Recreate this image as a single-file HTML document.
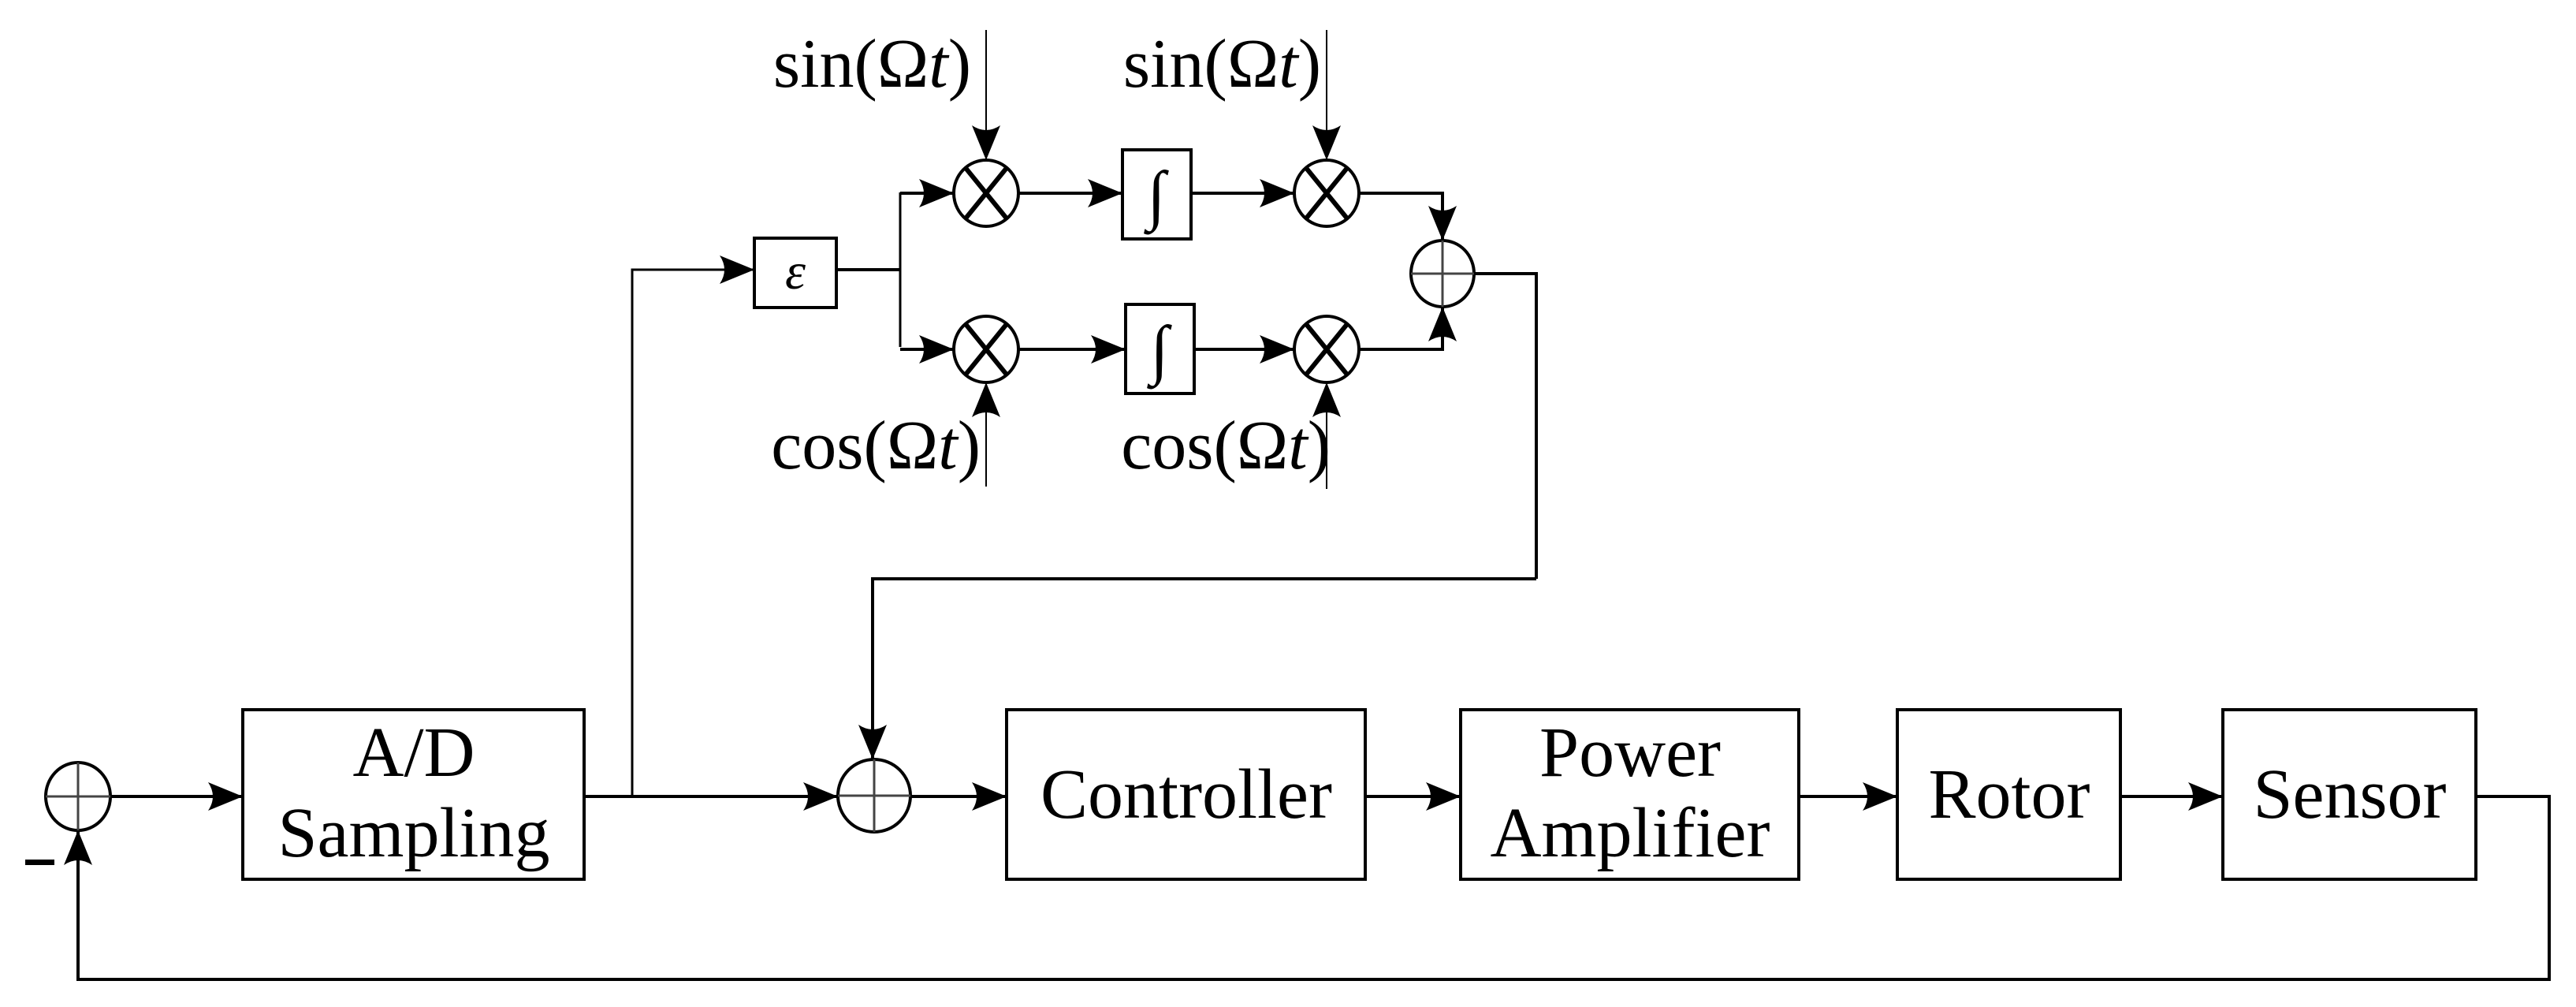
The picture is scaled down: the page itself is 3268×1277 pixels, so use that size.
<!DOCTYPE html>
<html><head><meta charset="utf-8"><style>html,body{margin:0;padding:0;background:#fff}svg{display:block}</style></head>
<body>
<svg width="3268" height="1277" viewBox="0 0 3268 1277" xmlns="http://www.w3.org/2000/svg">
<defs>
<marker id="a" viewBox="0 0 44 36" refX="44" refY="18" markerWidth="44" markerHeight="36" markerUnits="userSpaceOnUse" orient="auto">
<path d="M0,0 L44,18 L0,36 Q12,18 0,0 Z" fill="#000"/>
</marker>
</defs>
<g fill="none" stroke="#000" stroke-width="4">
<rect x="308" y="900" width="433" height="215"/>
<rect x="1277" y="900" width="455" height="215"/>
<rect x="1853" y="900" width="429" height="215"/>
<rect x="2407" y="900" width="283" height="215"/>
<rect x="2820" y="900" width="321" height="215"/>
<rect x="957" y="302" width="104" height="88"/>
<rect x="1424" y="190" width="87" height="113"/>
<rect x="1428" y="386" width="87" height="113"/>
<ellipse cx="99" cy="1010" rx="41" ry="43"/>
<ellipse cx="1109" cy="1009" rx="46" ry="46"/>
<ellipse cx="1830" cy="347" rx="40" ry="42"/>
<ellipse cx="1251" cy="245" rx="41" ry="42"/>
<ellipse cx="1251" cy="443" rx="41" ry="42"/>
<ellipse cx="1683" cy="245" rx="41" ry="42"/>
<ellipse cx="1683" cy="443" rx="41" ry="42"/>
</g>
<g stroke="#444" stroke-width="3">
<path d="M58,1010H140M99,967V1053"/>
<path d="M1063,1009H1155M1109,963V1055"/>
<path d="M1790,347H1870M1830,305V389"/>
</g>
<g stroke="#000" stroke-width="6">
<path d="M1225,213L1277,277M1277,213L1225,277"/>
<path d="M1225,411L1277,475M1277,411L1225,475"/>
<path d="M1657,213L1709,277M1709,213L1657,277"/>
<path d="M1657,411L1709,475M1709,411L1657,475"/>
</g>
<g fill="none" stroke="#000" stroke-width="4">
<path d="M140,1010H308" marker-end="url(#a)"/>
<path d="M741,1010H1063" marker-end="url(#a)"/>
<path d="M1155,1010H1277" marker-end="url(#a)"/>
<path d="M1732,1010H1853" marker-end="url(#a)"/>
<path d="M2282,1010H2407" marker-end="url(#a)"/>
<path d="M2690,1010H2820" marker-end="url(#a)"/>
<path d="M3141,1010H3234V1242H99V1053" marker-end="url(#a)"/>
<path d="M802,1010V342H957" stroke-width="3" marker-end="url(#a)"/>
<path d="M1061,342H1142"/>
<path d="M1142,244V440" stroke-width="3"/>
<path d="M1142,245H1210" marker-end="url(#a)"/>
<path d="M1142,443H1210" marker-end="url(#a)"/>
<path d="M1292,245H1424" marker-end="url(#a)"/>
<path d="M1292,443H1428" marker-end="url(#a)"/>
<path d="M1511,245H1642" marker-end="url(#a)"/>
<path d="M1515,443H1642" marker-end="url(#a)"/>
<path d="M1724,245H1830V305" marker-end="url(#a)"/>
<path d="M1724,443H1830V389" marker-end="url(#a)"/>
<path d="M1870,347H1949V734" />
<path d="M1949,734H1107V963" marker-end="url(#a)"/>
<path d="M1251,38V203" stroke-width="2" marker-end="url(#a)"/>
<path d="M1683,38V203" stroke-width="2" marker-end="url(#a)"/>
<path d="M1251,617V485" stroke-width="2" marker-end="url(#a)"/>
<path d="M1683,620V485" stroke-width="2" marker-end="url(#a)"/>
</g>
<rect x="32" y="1090" width="37" height="7" fill="#000"/>
<g font-family="Liberation Serif, serif" font-size="90" fill="#000" text-anchor="middle">
<text x="525" y="984">A/D</text>
<text x="525" y="1086">Sampling</text>
<text x="1505" y="1037">Controller</text>
<text x="2068" y="984">Power</text>
<text x="2068" y="1086">Amplifier</text>
<text x="2549" y="1037">Rotor</text>
<text x="2981" y="1037">Sensor</text>
<text x="1009" y="366" font-style="italic" font-size="66">ε</text>
<text x="1467" y="275" font-size="84">∫</text>
<text x="1471" y="471" font-size="84">∫</text>
</g>
<g font-family="Liberation Serif, serif" font-size="88" fill="#000" text-anchor="end">
<text x="1232" y="110">sin(Ω<tspan font-style="italic">t</tspan>)</text>
<text x="1676" y="110">sin(Ω<tspan font-style="italic">t</tspan>)</text>
<text x="1244" y="594">cos(Ω<tspan font-style="italic">t</tspan>)</text>
<text x="1688" y="594">cos(Ω<tspan font-style="italic">t</tspan>)</text>
</g>
</svg>
</body></html>
